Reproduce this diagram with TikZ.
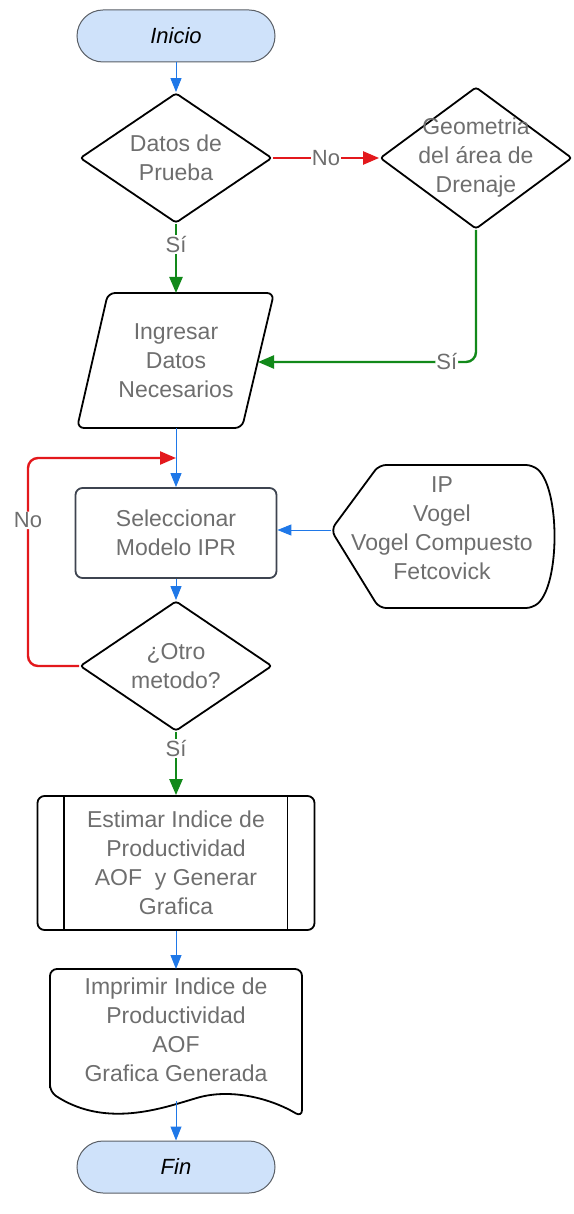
\documentclass[tikz,border=0pt]{standalone}
\usepackage{fontspec}
\setmainfont{Liberation Sans}
\usetikzlibrary{arrows.meta,shapes.geometric}

\definecolor{flowblue}{HTML}{1F78E8}
\definecolor{flowred}{HTML}{E3181C}
\definecolor{flowgreen}{HTML}{12891A}
\definecolor{termfill}{HTML}{CFE2FA}
\definecolor{termedge}{HTML}{5A5F66}
\definecolor{txtgray}{HTML}{6E6E6E}
\definecolor{boxedge}{HTML}{3E4450}

\begin{document}
\begin{tikzpicture}[x=1pt,y=-1pt,
  every node/.style={font=\fontsize{23}{29}\selectfont},
  txt/.style={align=center,text=txtgray,inner sep=0pt},
  term/.style={draw=termedge,line width=1pt,fill=termfill,rounded corners=26pt,
    minimum width=198pt,minimum height=52pt,text=black,
    font=\fontsize{22}{27}\selectfont\itshape},
  dia/.style={diamond,draw=black,line width=1.8pt,minimum width=192pt,
    minimum height=130pt,inner sep=0pt,rounded corners=3pt},
  edge/.style={draw=black,line width=1.8pt,rounded corners=7pt},
  bluec/.style={draw=flowblue,line width=1pt,-{Triangle[width=11pt,length=14pt]}},
  redc/.style={draw=flowred,line width=2.4pt,-{Triangle[width=13pt,length=16pt]}},
  greenc/.style={draw=flowgreen,line width=2.4pt,-{Triangle[width=13pt,length=16pt]}},
  lbl/.style={fill=white,text=txtgray,inner sep=1pt,font=\fontsize{22}{27}\selectfont}]

\useasboundingbox (0,0) rectangle (573,1214);

% terminals
\node[term] (ini) at (176,36) {Inicio};
\node[term] (fin) at (176,1167) {Fin};

% decisions
\node[dia] (d1) at (176,158) {};
\node[txt] (d1t) at (d1) {Datos de\\Prueba};
\node[dia,minimum height=142pt] (d2) at (476,158) {};
\node[txt] (d2t) at (d2) {Geometria\\del área de\\Drenaje};
\node[dia] (d3) at (176,666) {};
\node[txt] (d3t) at (d3) {¿Otro\\metodo?};

% input parallelogram
\draw[edge] (191,293) -- (274,293) -- (242,428) -- (77,428) -- (108,293) -- cycle;
\node[txt] (ing) at (176,361) {Ingresar\\Datos\\Necesarios};
\coordinate (ingT) at (176,293);
\coordinate (ingB) at (176,428);
\coordinate (ingR) at (258,362);

% process box
\node[txt,draw=boxedge,line width=1.8pt,rounded corners=7pt,
  minimum width=201pt,minimum height=90pt] (sel) at (176,533)
  {Seleccionar\\Modelo IPR};

% display shape with the IPR models
\draw[edge] (450,465) -- (533,465) .. controls (560,490) and (560,583) .. (533,608)
  -- (379,608) -- (331,530) -- (379,465) -- cycle;
\node[txt] (disp) at (442,528) {IP\\Vogel\\Vogel Compuesto\\Fetcovick};
\coordinate (dispL) at (331,530);

% predefined process
\node[txt,draw=black,line width=1.8pt,rounded corners=7pt,
  minimum width=277pt,minimum height=134pt] (proc) at (176,863)
  {Estimar Indice de\\Productividad\\AOF\ \ y Generar\\Grafica};
\draw[black,line width=1.8pt] ([xshift=27pt]proc.north west) -- ([xshift=27pt]proc.south west);
\draw[black,line width=1.8pt] ([xshift=-28pt]proc.north east) -- ([xshift=-28pt]proc.south east);

% document
\draw[edge] (50,1092) -- (50,969) -- (302,969) -- (302,1117)
  .. controls (270,1098) and (230,1088) .. (190,1100)
  .. controls (150,1112) and (100,1125) .. (50,1092) -- cycle;
\node[txt] (doc) at (176,1030) {Imprimir Indice de\\Productividad\\AOF\\Grafica Generada};
\coordinate (docT) at (176,969);
\coordinate (docB) at (176,1101);

% connectors
\coordinate (join) at (176,458);
\coordinate (loopTop) at (28,458);
\draw[bluec] (ini.south) -- (d1.north);
\draw[redc] (d1.east) -- node[lbl]{No} (d2.west);
\draw[greenc] (d1.south) -- node[lbl,pos=0.3]{Sí} (ingT);
\draw[greenc,rounded corners=10pt] (d2.south) |- node[lbl,pos=0.567]{Sí} (ingR);
\draw[bluec] (ingB) -- (sel.north);
\draw[redc,rounded corners=10pt] (d3.west) -| node[lbl,pos=0.85]{No} (loopTop) -- (join);
\draw[bluec] (dispL) -- (dispL -| sel.east);
\draw[bluec] (sel.south) -- (d3.north);
\draw[greenc] (d3.south) -- node[lbl,pos=0.26]{Sí} (proc.north);
\draw[bluec] (proc.south) -- (docT);
\draw[bluec] (docB) -- (fin.north);
\end{tikzpicture}
\end{document}
